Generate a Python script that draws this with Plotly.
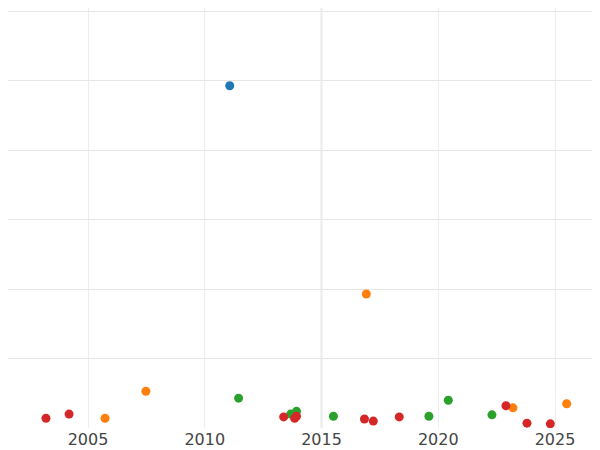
import plotly.graph_objects as go

blue_x = [2011.07]; blue_y = [493]
orange_x = [2005.73, 2007.48, 2016.92, 2023.2, 2025.5]; orange_y = [14, 53, 193, 29, 35]
green_x = [2011.45, 2013.68, 2013.93, 2015.51, 2019.6, 2020.43, 2022.3]; green_y = [43, 20, 24, 17, 17, 40, 19]
red_x = [2003.2, 2004.19, 2013.38, 2013.85, 2013.93, 2016.84, 2017.22, 2018.33, 2022.9, 2023.8, 2024.8]
red_y = [14, 20, 16, 14, 17, 13, 10, 16, 32, 7, 6]

fig = go.Figure()
for xs, ys, c in [(blue_x, blue_y, "#1f77b4"), (orange_x, orange_y, "#ff7f0e"),
                  (green_x, green_y, "#2ca02c"), (red_x, red_y, "#d62728")]:
    fig.add_trace(go.Scatter(x=xs, y=ys, mode="markers", marker=dict(color=c, size=9), showlegend=False))
fig.add_vline(x=2015, line=dict(color="#e6e6e6", width=2), layer="below")
fig.update_layout(width=600, height=445, margin=dict(l=0, r=0, t=0, b=25),
                  plot_bgcolor="white", paper_bgcolor="white",
                  font=dict(family="DejaVu Sans", size=16, color="#444"))
fig.update_xaxes(range=[2001.574, 2027.27], tickvals=[2005, 2010, 2015, 2020, 2025],
                 showgrid=True, gridcolor="#eeeeee", zeroline=False, ticks="")
fig.update_yaxes(range=[0, 605], dtick=100, showticklabels=False, showgrid=True,
                 gridcolor="#e6e6e6", zeroline=False)
fig.write_html("out.html")
